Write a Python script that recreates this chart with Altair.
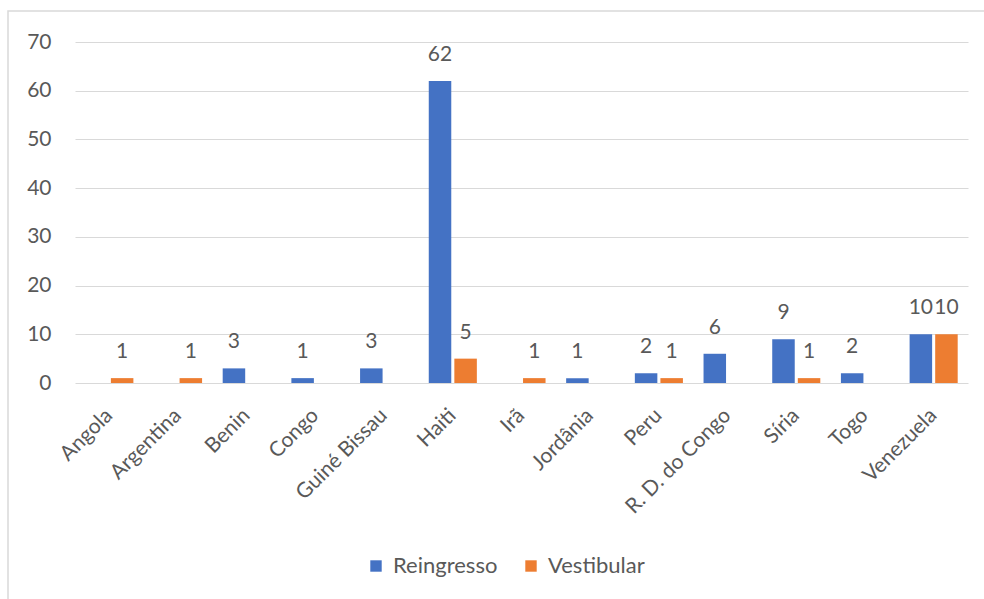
import altair as alt
import pandas as pd

countries = ["Angola", "Argentina", "Benin", "Congo", "Guiné Bissau", "Haiti", "Irã",
             "Jordânia", "Peru", "R. D. do Congo", "Síria", "Togo", "Venezuela"]
reingresso = [0, 0, 3, 1, 3, 62, 0, 1, 2, 6, 9, 2, 10]
vestibular = [1, 1, 0, 0, 0, 5, 1, 0, 1, 0, 1, 0, 10]
series = ["Reingresso", "Vestibular"]
colors = ["#4472C4", "#ED7D31"]
y_ticks = [0, 10, 20, 30, 40, 50, 60, 70]

rows = []
for c, r, v in zip(countries, reingresso, vestibular):
    if r:
        rows.append({"pais": c, "serie": "Reingresso", "valor": r})
    if v:
        rows.append({"pais": c, "serie": "Vestibular", "valor": v})
df = pd.DataFrame(rows)

FONT = "Lato"
TXT = "#595959"

x = alt.X("pais:N", sort=countries,
          scale=alt.Scale(domain=countries, paddingInner=0.30, paddingOuter=0.15),
          axis=alt.Axis(title=None, labelAngle=-45, labelAlign="right", labelBaseline="middle",
                        labelPadding=29, domain=False, ticks=False, grid=False,
                        labelFont=FONT, labelFontSize=21, labelColor=TXT))
xo = alt.XOffset("serie:N", scale=alt.Scale(domain=series, paddingInner=0.12, paddingOuter=0))
y = alt.Y("valor:Q", scale=alt.Scale(domain=[0, 70], nice=False),
          axis=alt.Axis(title=None, values=y_ticks, domain=False, ticks=False,
                        gridColor="#d9d9d9", gridWidth=1, labelPadding=24,
                        labelFont=FONT, labelFontSize=21, labelColor=TXT))
color = alt.Color("serie:N", scale=alt.Scale(domain=series, range=colors),
                  legend=alt.Legend(title=None, orient="none", direction="horizontal",
                                    legendX=290, legendY=513, padding=0,
                                    symbolType="square", symbolSize=130, symbolStrokeWidth=0,
                                    labelFont=FONT, labelFontSize=22, labelColor=TXT,
                                    labelOffset=6, columnPadding=22))

frame = alt.Chart(pd.DataFrame({"a": [0]})).mark_rect(
    fill=None, stroke="#d9d9d9", strokeWidth=1.5
).encode(x=alt.value(-67), x2=alt.value(930), y=alt.value(-31), y2=alt.value(580))

base = alt.Chart(df)
bars = base.mark_bar().encode(x=x, xOffset=xo, y=y, color=color)
labels = base.mark_text(dy=-20, baseline="alphabetic", font=FONT, fontSize=21, color=TXT).encode(
    x=x, xOffset=xo, y=y, text="valor:Q")

chart = alt.layer(frame, bars, labels).properties(
    width=893, height=341,
    autosize=alt.AutoSizeParams(type="none"),
    padding={"left": 75, "top": 42, "right": 16, "bottom": 216},
    background="white",
).configure_view(stroke=None)

chart.save("out.html", embed_options={"renderer": "svg", "actions": False})
